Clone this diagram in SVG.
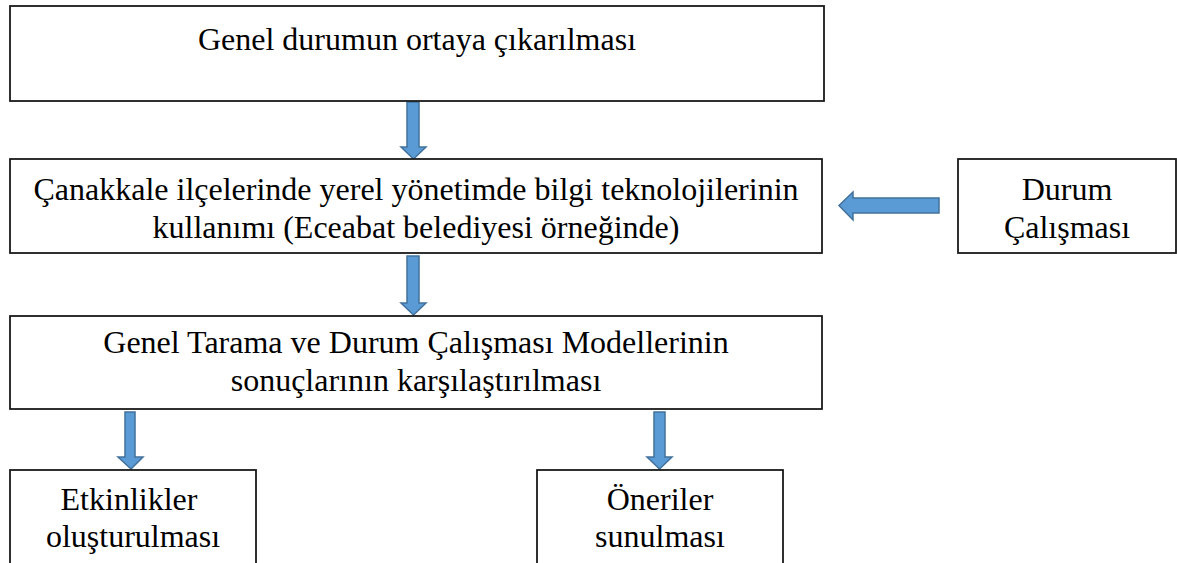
<svg xmlns="http://www.w3.org/2000/svg" width="1177" height="563" viewBox="0 0 1177 563">
<style>
.box{fill:#fff;stroke:#1a1a1a;stroke-width:1.8}
.t{font-family:"Liberation Serif","Times New Roman",serif;font-size:32px;fill:#000;text-anchor:middle}
.arr{fill:#5B9BD5;stroke:#41719C;stroke-width:1.5;stroke-linejoin:miter}
</style>
<rect width="1177" height="563" fill="#fff"/>
<g id="connectors">
<polygon class="arr" points="407,102 419,102 419,147 426,147 413.5,159 401,147 407,147"/>
<polygon class="arr" points="407,256 419,256 419,303 426,303 413.5,315 401,303 407,303"/>
<polygon class="arr" points="939,198 939,213 853,213 853,220 839,205.5 853,192 853,198"/>
<polygon class="arr" points="125,412 135,412 135,457 143,457 131,469 118,457 125,457"/>
<polygon class="arr" points="654,412 665,412 665,457 672,457 659.5,469 647,457 654,457"/>
</g>
<g id="n1"><rect class="box" x="10" y="6" width="814" height="95"/>
<text class="t" x="417" y="50">Genel durumun ortaya çıkarılması</text></g>
<g id="n2"><rect class="box" x="10" y="159" width="812" height="94"/>
<text class="t" x="416" y="200">Çanakkale ilçelerinde yerel yönetimde bilgi teknolojilerinin</text>
<text class="t" x="416" y="238">kullanımı (Eceabat belediyesi örneğinde)</text></g>
<g id="n3"><rect class="box" x="958" y="159" width="218" height="94"/>
<text class="t" x="1067" y="200">Durum</text>
<text class="t" x="1067" y="238">Çalışması</text></g>
<g id="n4"><rect class="box" x="10" y="316" width="812" height="93"/>
<text class="t" x="416" y="353">Genel Tarama ve Durum Çalışması Modellerinin</text>
<text class="t" x="416" y="391">sonuçlarının karşılaştırılması</text></g>
<g id="n5"><rect class="box" x="10" y="470" width="246" height="100"/>
<text class="t" x="129" y="510">Etkinlikler</text>
<text class="t" x="133" y="547">oluşturulması</text></g>
<g id="n6"><rect class="box" x="537" y="470" width="246" height="100"/>
<text class="t" x="660" y="510">Öneriler</text>
<text class="t" x="660" y="547">sunulması</text></g>
</svg>
